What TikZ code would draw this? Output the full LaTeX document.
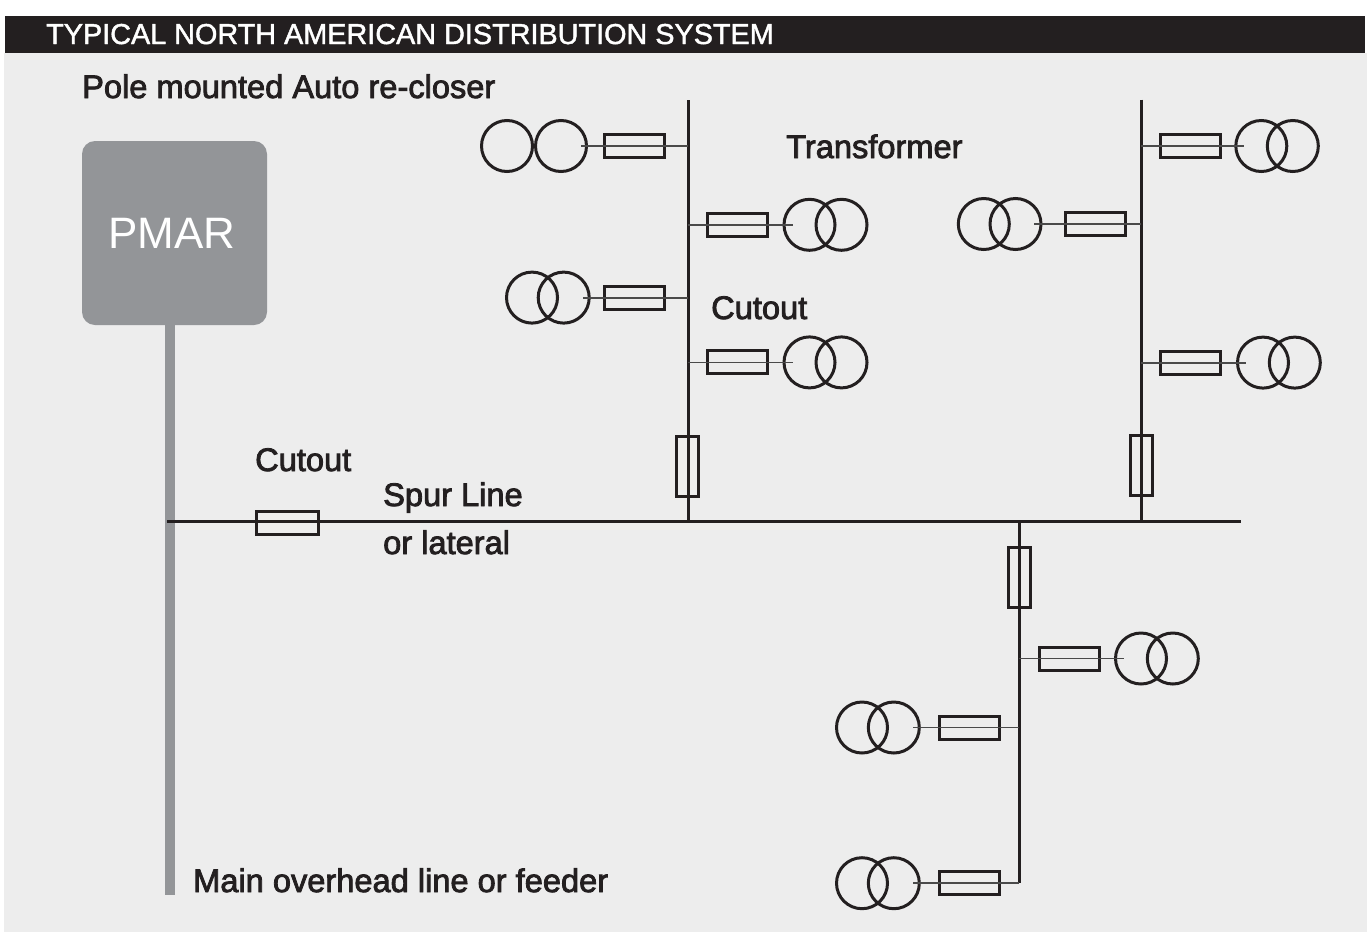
\documentclass[tikz,border=0pt]{standalone}
\usepackage{fontspec}
\setmainfont{Liberation Sans}
\newfontfamily\lblfont[FakeBold=2.5]{Liberation Sans}
\newfontfamily\ttlfont[FakeBold=1.5]{Liberation Sans}
\definecolor{ink}{HTML}{231F20}
\definecolor{panel}{HTML}{EDEDED}
\definecolor{pmargrey}{HTML}{939598}
\definecolor{thin}{HTML}{4A4A4A}
\newcommand\tapbranch[7]{%
  \coordinate (#1-bus) at (#2,#3);
  \node[fuseh] (#1-fuse) at (#4,#3) {};
  \node[coil] (#1-p) at (#5,#3) {};
  \node[coil] (#1-s) at (#6,#3) {};
  \coordinate (#1-end) at (#7,#3);
  \draw[tap] (#1-bus) -- (#1-end);
}
\begin{document}
\begin{tikzpicture}[x=1pt,y=-1pt,
  fuseh/.style={draw=ink,line width=3pt,rectangle,minimum width=60pt,minimum height=23pt,inner sep=0pt},
  fusev/.style={draw=ink,line width=3pt,rectangle,minimum width=22pt,minimum height=60pt,inner sep=0pt},
  coil/.style={draw=ink,line width=3pt,circle,minimum size=51pt,inner sep=0pt},
  tap/.style={draw=thin,line width=1.8pt},
  bus/.style={draw=ink,line width=3pt},
  lbl/.style={text=ink,anchor=base west,inner sep=0pt,font=\lblfont\fontsize{32.6}{38}\selectfont}]
\useasboundingbox (0,0) rectangle (1372,932);
\fill[white] (0,0) rectangle (1372,932);
\fill[panel] (4,53) rectangle (1367,932);
\fill[ink] (5,16) rectangle (1365,53);
\node[anchor=base west,inner sep=0pt,text=white,font=\ttlfont\fontsize{28.8}{34}\selectfont] (title) at (46,44) {TYPICAL NORTH AMERICAN DISTRIBUTION SYSTEM};
% PMAR
\node[fill=pmargrey,rounded corners=13pt,minimum width=185pt,minimum height=184pt,inner sep=0pt] (pmar) at (174.5,233) {};
\node[anchor=base,inner sep=0pt,text=white,font=\fontsize{44}{50}\selectfont] (pmartxt) at (172,248) {PMAR};
\coordinate (poletop) at (170,325);
\coordinate (polebot) at (170,895);
\fill[pmargrey] (165,325) rectangle (175,895);
% spur line
\coordinate (spurL) at (167,521.5);
\coordinate (spurR) at (1241,521.5);
\draw[bus] (spurL) -- (spurR);
\node[fuseh,minimum width=62.5pt] (spurfuse) at (287.5,523) {};
% buses
\coordinate (b1top) at (688,100);
\coordinate (b1bot) at (688,521.5);
\coordinate (b2top) at (1141,99.5);
\coordinate (b2bot) at (1141,521.5);
\coordinate (b3top) at (1019,521.5);
\coordinate (b3bot) at (1019,883.2);
\draw[bus] (b1top) -- (b1bot);
\draw[bus] (b2top) -- (b2bot);
\draw[bus] (b3top) -- (b3bot);
\node[fusev] (f1v) at (687,466) {};
\node[fusev] (f2v) at (1141.3,465.7) {};
\node[fusev] (f3v) at (1019.2,577.3) {};
% branches
\tapbranch{L1}{688}{146}{634.5}{507}{561}{581}
\tapbranch{L2}{688}{224.8}{737.5}{809.5}{841.5}{793}
\tapbranch{L3}{688}{297.6}{634.5}{532}{563.7}{582.7}
\tapbranch{L4}{688}{362.4}{737.5}{809.5}{841.5}{793}
\tapbranch{R1}{1141}{146}{1190}{1261.3}{1292.8}{1244}
\tapbranch{R2}{1141}{224}{1095.5}{983.8}{1015.5}{1034}
\tapbranch{R3}{1141}{362.6}{1190}{1263}{1294.8}{1246}
\tapbranch{D1}{1019}{658.5}{1069}{1141}{1172.8}{1124}
\tapbranch{D2}{1019}{727.5}{969}{862}{893.8}{912.7}
\tapbranch{D3}{1019}{883.2}{969}{862}{893.8}{912.7}
% labels
\node[lbl] (lpole) at (82,98) {Pole mounted Auto re-closer};
\node[lbl] (ltrans) at (786,158) {Transformer};
\node[lbl] (lcut1) at (711,319) {Cutout};
\node[lbl] (lcut2) at (255,471) {Cutout};
\node[lbl] (lspur) at (383,506) {Spur Line};
\node[lbl] (llat) at (383,554) {or lateral};
\node[lbl] (lmain) at (193,892) {Main overhead line or feeder};
\end{tikzpicture}
\end{document}
